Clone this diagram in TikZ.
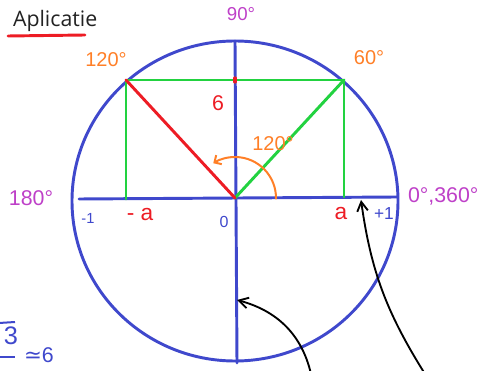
\documentclass[tikz,border=0pt]{standalone}
\usepackage{fontspec}
\setmainfont{Liberation Sans}
\newfontfamily\titlefont{Open Sans}
\newfontfamily\symfont{DejaVu Sans}
\usetikzlibrary{arrows.meta}
\definecolor{cblue}{RGB}{63,72,204}
\definecolor{cgreen}{RGB}{34,210,64}
\definecolor{cred}{RGB}{237,28,36}
\definecolor{corange}{RGB}{255,127,39}
\definecolor{cpurple}{RGB}{190,64,200}
\definecolor{ctext}{RGB}{34,34,34}
\tikzset{
  bluel/.style={draw=cblue,line width=2.2pt,line cap=round},
  greenl/.style={draw=cgreen,line width=2.2pt,line cap=round,line join=round},
  redl/.style={draw=cred,line width=2.2pt,line cap=round},
  orangel/.style={draw=corange,line width=1.5pt,line cap=round},
  blackarrow/.style={draw=black,line width=1.4pt,line cap=round,
    -{Straight Barb[length=7pt,width=8pt,line width=1.4pt]}},
  lbl/.style={inner sep=0pt,outer sep=0pt},
  purplelbl/.style={lbl,text=cpurple},
  orangelbl/.style={lbl,text=corange},
  redlbl/.style={lbl,text=cred},
  bluelbl/.style={lbl,text=cblue},
}
\begin{document}
\begin{tikzpicture}[x=0.75pt,y=0.75pt]
\useasboundingbox (0,0) rectangle (482,371);
\clip (0,0) rectangle (482,371);
% key points
\coordinate (C) at (235,170);
\coordinate (O) at (235,173);
\coordinate (vtop) at (235,330);
\coordinate (vbot) at (237,8);
\coordinate (hl) at (79,172);
\coordinate (hr) at (397,174);
\coordinate (TL) at (126,291);
\coordinate (TR) at (344,291);
\coordinate (BL) at (126,172);
\coordinate (BR) at (344,174);
% circle and axes
\draw[bluel] (C) ellipse [x radius=163, y radius=160];
\draw[bluel] (vtop) -- (vbot);
\draw[bluel] (hl) -- (hr);
% green rectangle and diagonal
\draw[greenl] (BL) -- (TL) -- (TR) -- (BR);
\draw[greenl] (O) -- (TR);
% red line
\draw[redl] (TL) -- (O);
\coordinate (rt1) at (235,289);
\coordinate (rt2) at (235,293);
\draw[redl,line width=2.4pt] (rt1) -- (rt2);
% orange angle arc
\draw[orangel,-{Straight Barb[length=4pt,width=8pt,line width=1.5pt]}]
  ([shift={(-1:41)}]O) arc[start angle=-1,end angle=122,radius=41];
% title
\node[lbl,anchor=base west,text=ctext,font=\titlefont\fontsize{16}{18}\selectfont] (title) at (13,344) {Aplicatie};
\coordinate (u1) at (8,335);
\coordinate (u2) at (85,336);
\draw[redl] (u1) -- (u2);
% labels
\node[purplelbl,font=\fontsize{14}{16}\selectfont] (l90) at (241,357) {90°};
\node[orangelbl,font=\fontsize{15}{17}\selectfont] (l120a) at (106,311) {120°};
\node[orangelbl,font=\fontsize{15}{17}\selectfont] (l60) at (369,313) {60°};
\node[redlbl,font=\fontsize{16}{18}\selectfont] (l6) at (218,268) {6};
\node[orangelbl,font=\fontsize{15}{17}\selectfont] (l120b) at (273,227) {120°};
\node[purplelbl,font=\fontsize{16}{18}\selectfont] (l180) at (31,173) {180°};
\node[bluelbl,font=\fontsize{11}{13}\selectfont] (lm1) at (88,153) {-1};
\node[redlbl,font=\fontsize{17}{19}\selectfont] (lma) at (140,156) {- a};
\node[bluelbl,font=\fontsize{12}{14}\selectfont] (l0) at (224,149) {0};
\node[redlbl,font=\fontsize{17}{19}\selectfont] (la) at (341,157) {a};
\node[bluelbl,font=\fontsize{13}{15}\selectfont] (lp1) at (384,157) {+1};
\node[purplelbl,anchor=west,font=\fontsize{16}{18}\selectfont] (l0360) at (408,175) {0°,360°};
% bottom-left fragment
\node[bluelbl,font=\fontsize{19}{21}\selectfont] (l3) at (11,35) {3};
\coordinate (s1) at (-1,48);
\coordinate (s2) at (15,49);
\draw[draw=cblue,line width=1.5pt] (s1) -- (s2);
\coordinate (f1) at (-1,14);
\coordinate (f2) at (15,14);
\draw[draw=cblue,line width=1.5pt] (f1) -- (f2);
\node[bluelbl,anchor=base west,font=\fontsize{16}{18}\selectfont] (leq) at (24,8) {{\symfont ≃}6};
% black arrows
\coordinate (a1s) at (311,-3);
\coordinate (a1e) at (237,71);
\draw[blackarrow] (a1s) to[out=103,in=-15] (a1e);
\coordinate (a2s) at (425,-3);
\coordinate (a2e) at (361,171);
\draw[blackarrow] (a2s) to[out=122,in=-82] (a2e);
\end{tikzpicture}
\end{document}
